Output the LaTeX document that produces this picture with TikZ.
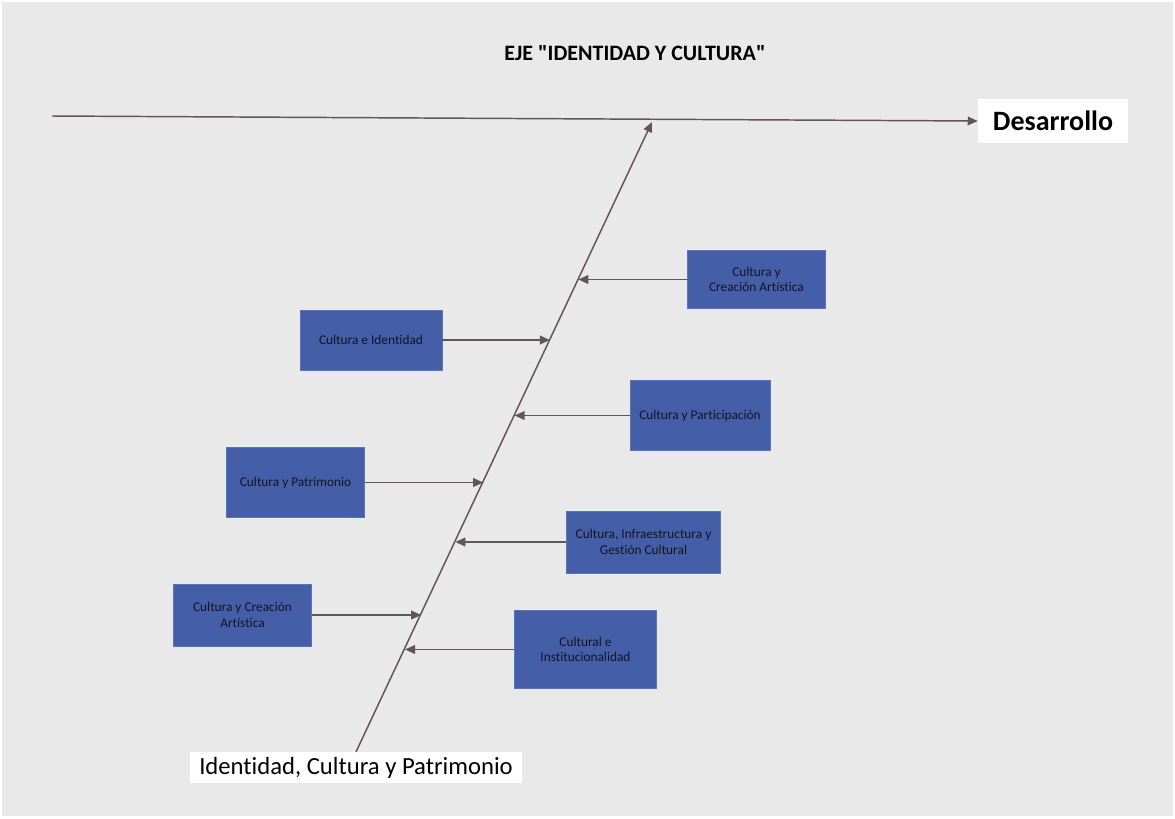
\documentclass[tikz,border=0pt]{standalone}
\usepackage{fontspec}
\setmainfont{Carlito}[Ligatures=NoCommon]
\definecolor{bgray}{RGB}{232,233,232}
\definecolor{boxblue}{RGB}{68,95,168}
\definecolor{boxedge}{RGB}{90,115,185}
\definecolor{linegray}{RGB}{95,85,90}
\definecolor{textdark}{RGB}{20,20,35}
\usetikzlibrary{arrows.meta, positioning, calc}

\begin{document}
\begin{tikzpicture}[
        x=0.75pt, y=-0.75pt,
        cbox/.style={draw=boxedge, line width=0.6pt, fill=boxblue, align=center, inner sep=2pt,
            font=\fontsize{10}{11.5}\selectfont, text=textdark},
        lbox/.style={fill=white, inner sep=0pt, align=center},
        arrow/.style={-{Triangle[length=7.5pt, width=6.5pt]}, line width=1.1pt, linegray}
    ]
        % background
        \useasboundingbox (0,0) rectangle (1175,818);
        \fill[bgray] (2,2) rectangle (1173,816);

        % title
        \node[font=\fontsize{16.5}{19}\selectfont\bfseries] (title) at (635,53) {EJE \textquotedbl IDENTIDAD Y CULTURA\textquotedbl};

        % head and tail
        \node[lbox, minimum width=112.5pt, minimum height=33pt, font=\fontsize{21}{24}\selectfont\bfseries] (des) at (1053,121) {Desarrollo};
        \node[lbox, minimum width=249pt, minimum height=23pt, font=\fontsize{18.5}{22}\selectfont] (base) at (356,767.5) {Identidad, Cultura y Patrimonio};

        \coordinate (start) at (52,116);
        \coordinate (tip) at (652,122);
        \draw[arrow] (start) -- (des.west);
        \draw[arrow] (base.north) -- (tip);

        % causes
        \node[cbox, minimum width=103pt, minimum height=44pt] (c1) at (756.5,279.5) {Cultura y\\Creación Artística};
        \node[cbox, minimum width=106.5pt, minimum height=45pt] (c2) at (371,340) {Cultura e Identidad};
        \node[cbox, minimum width=105pt, minimum height=53pt] (c3) at (700,415.5) {Cultura y Participación};
        \node[cbox, minimum width=103pt, minimum height=53pt] (c4) at (295.5,482.5) {Cultura y Patrimonio};
        \node[cbox, minimum width=115pt, minimum height=46.5pt] (c5) at (643.5,542) {Cultura, Infraestructura y\\Gestión Cultural};
        \node[cbox, minimum width=104pt, minimum height=46.5pt] (c6) at (242.5,615) {Cultura y Creación\\Artística};
        \node[cbox, minimum width=106pt, minimum height=58pt] (c7) at (585.5,649.5) {Cultural e\\Institucionalidad};

        % points on the spine
        \coordinate (s1) at (578.3,279.5);
        \coordinate (s2) at (549.9,340);
        \coordinate (s3) at (514.6,415.5);
        \coordinate (s4) at (483.2,482.5);
        \coordinate (s5) at (455.4,542);
        \coordinate (s6) at (421.2,615);
        \coordinate (s7) at (405.0,649.5);

        \draw[arrow] (c1.west) -- (s1);
        \draw[arrow] (c2.east) -- (s2);
        \draw[arrow] (c3.west) -- (s3);
        \draw[arrow] (c4.east) -- (s4);
        \draw[arrow] (c5.west) -- (s5);
        \draw[arrow] (c6.east) -- (s6);
        \draw[arrow] (c7.west) -- (s7);
    \end{tikzpicture}
\end{document}
